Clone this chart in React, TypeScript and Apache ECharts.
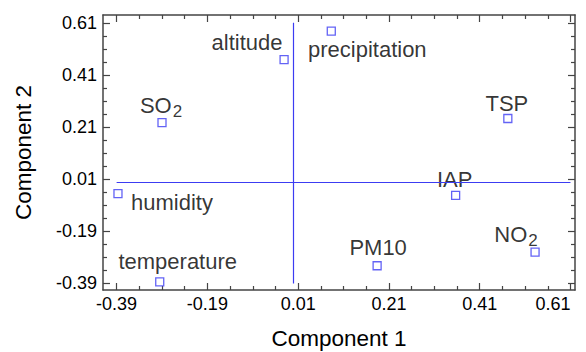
import React, { useEffect, useRef } from "react";
import * as echarts from "echarts";

// Variable names and their loadings
const names = ["altitude", "precipitation", "SO2", "TSP", "humidity", "temperature", "IAP", "NO2", "PM10"];
const comp1 = [-0.021, 0.083, -0.29, 0.472, -0.387, -0.295, 0.357, 0.532, 0.184];
const comp2 = [0.469, 0.578, 0.227, 0.243, -0.045, -0.384, -0.052, -0.27, -0.322];

// Tick values
const majorTicksX = [-0.39, -0.19, 0.01, 0.21, 0.41, 0.61];
const minorTicksX = [-0.34, -0.29, -0.24, -0.14, -0.09, -0.04, 0.06, 0.11, 0.16, 0.26, 0.31, 0.36, 0.46, 0.51, 0.56];
const majorTicksY = [-0.39, -0.19, 0.01, 0.21, 0.41, 0.61];
const minorTicksY = [-0.34, -0.29, -0.24, -0.14, -0.09, -0.04, 0.06, 0.11, 0.16, 0.26, 0.31, 0.36, 0.46, 0.51, 0.56];

// Reference lines at zero
const refLineExtent = [-0.39, 0.61];

// Label offsets (pixels) relative to each marker centre
const labelOffsets: Record<string, [number, number]> = {
  altitude: [-37, -17],
  precipitation: [36, 18],
  SO2: [-1, -17],
  TSP: [-1, -15],
  humidity: [54, 9],
  temperature: [18, -20],
  IAP: [-1, -16],
  NO2: [-19, -18],
  PM10: [1, -18],
};

const FONT = "'Liberation Sans', Arial, Helvetica, sans-serif";
const FRAME = "#444";
const BLUE = "#3c3cf2";
const INK = "#000";

export default function App() {
  const ref = useRef<HTMLDivElement>(null);

  useEffect(() => {
    if (!ref.current) return;
    const chart = echarts.init(ref.current, undefined, { renderer: "svg" });

    const xMin = -0.42, xMax = 0.62, yMin = -0.415, yMax = 0.64;

    const fmt = (v: number) => v.toFixed(2);

    const baseAxis = (extra: any) => ({
      type: "value",
      splitLine: { show: false },
      ...extra,
    });

    const mkX = (position: string, ticks: number[], len: number, labels: boolean, line: boolean, extra: any = {}) =>
      baseAxis({
        position,
        min: xMin,
        max: xMax,
        axisLine: { show: line, onZero: false, lineStyle: { color: FRAME, width: 1.5 } },
        axisTick: { show: true, inside: true, length: len, customValues: ticks, lineStyle: { color: FRAME, width: 1.2 } },
        axisLabel: labels
          ? { show: true, customValues: majorTicksX, formatter: fmt, fontFamily: FONT, fontSize: 18, color: INK, margin: 5, alignMaxLabel: "right" }
          : { show: false },
        ...extra,
      });

    const mkY = (position: string, ticks: number[], len: number, labels: boolean, line: boolean, extra: any = {}) =>
      baseAxis({
        position,
        min: yMin,
        max: yMax,
        axisLine: { show: line, onZero: false, lineStyle: { color: FRAME, width: 1.5 } },
        axisTick: { show: true, inside: true, length: len, customValues: ticks, lineStyle: { color: FRAME, width: 1.2 } },
        axisLabel: labels
          ? { show: true, customValues: majorTicksY, formatter: fmt, fontFamily: FONT, fontSize: 18, color: INK, margin: 6 }
          : { show: false },
        ...extra,
      });

    const data = names.map((n, i) => {
      const off = labelOffsets[n] || [0, 0];
      return {
        name: n,
        value: [comp1[i], comp2[i]],
        label: { offset: off },
      };
    });

    const labelText = (n: string) => {
      const m = n.match(/^(SO|NO)2$/);
      if (m) return `{n|${m[1]}}{s|2}`;
      return `{n|${n}}`;
    };

    chart.setOption({
      animation: false,
      backgroundColor: "#fff",
      grid: { left: 103, right: 11, top: 15, bottom: 62, containLabel: false, outerBoundsMode: "none" },
      xAxis: [
        mkX("bottom", majorTicksX, 7, true, true, {
          name: "Component 1",
          nameLocation: "middle",
          nameGap: 37,
          nameTextStyle: { fontFamily: FONT, fontSize: 22.5, color: INK },
        }),
        mkX("bottom", minorTicksX, 4, false, false),
        mkX("top", majorTicksX, 7, false, true),
        mkX("top", minorTicksX, 4, false, false),
      ],
      yAxis: [
        mkY("left", majorTicksY, 7, true, true, {
          name: "Component 2",
          nameLocation: "middle",
          nameGap: 68,
          nameTextStyle: { fontFamily: FONT, fontSize: 22.5, color: INK },
        }),
        mkY("left", minorTicksY, 4, false, false),
        mkY("right", majorTicksY, 7, false, true),
        mkY("right", minorTicksY, 4, false, false),
      ],
      series: [
        {
          type: "scatter",
          xAxisIndex: 0,
          yAxisIndex: 0,
          symbol: "rect",
          symbolSize: 8,
          itemStyle: { color: "#fff", borderColor: BLUE, borderWidth: 1.3 },
          label: {
            show: true,
            position: "inside",
            color: INK,
            textBorderWidth: 0,
            formatter: (p: any) => labelText(p.name),
            rich: {
              n: { fontFamily: FONT, fontSize: 22, color: INK, lineHeight: 26, textBorderWidth: 0 },
              s: { fontFamily: FONT, fontSize: 17, color: INK, lineHeight: 26, padding: [12, 0, 0, 1], textBorderWidth: 0 },
            },
          },
          emphasis: { disabled: true },
          data,
          markLine: {
            silent: true,
            symbol: "none",
            label: { show: false },
            lineStyle: { color: BLUE, width: 1.2, type: "solid" },
            data: [
              [{ coord: [0, refLineExtent[1]] }, { coord: [0, refLineExtent[0]] }],
              [{ coord: [refLineExtent[0], 0] }, { coord: [refLineExtent[1], 0] }],
            ],
          },
        },
      ],
    });

    return () => chart.dispose();
  }, []);

  return <div ref={ref} style={{ position: "fixed", left: 0, top: 0, width: 586, height: 352 }} />;
}
